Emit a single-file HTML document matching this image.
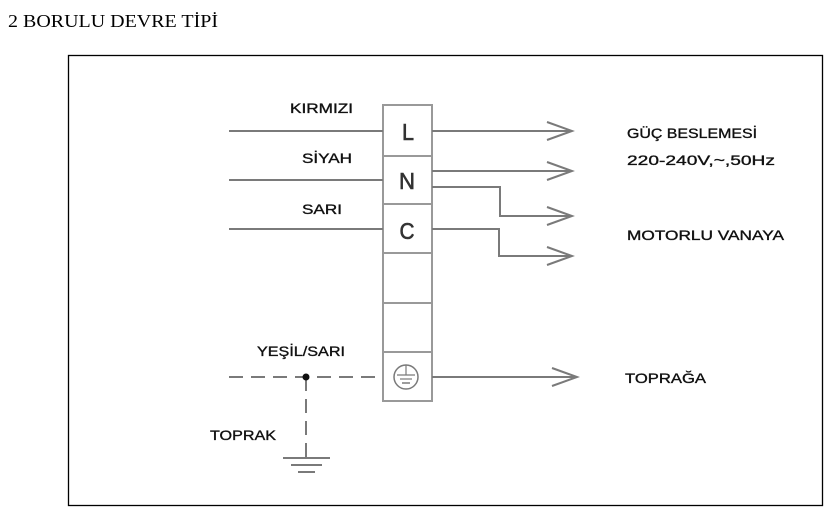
<!DOCTYPE html>
<html><head><meta charset="utf-8"><style>
html,body{margin:0;padding:0;background:#fff;}
svg{display:block}
</style></head><body>
<svg width="840" height="527" viewBox="0 0 840 527" xmlns="http://www.w3.org/2000/svg">
<text x="8" y="27" font-family="Liberation Serif, serif" font-size="18" fill="#000" textLength="210" lengthAdjust="spacingAndGlyphs">2 BORULU DEVRE TİPİ</text>
<rect x="68.5" y="55.5" width="754" height="450" fill="none" stroke="#000" stroke-width="1.3"/>
<g stroke="#7a7a7a" stroke-width="2" fill="none">
<rect x="383" y="105" width="49" height="296" stroke="#999"/>
<line x1="383" y1="156" x2="432" y2="156" stroke="#999"/>
<line x1="383" y1="204" x2="432" y2="204" stroke="#999"/>
<line x1="383" y1="253" x2="432" y2="253" stroke="#999"/>
<line x1="383" y1="303" x2="432" y2="303" stroke="#999"/>
<line x1="383" y1="352" x2="432" y2="352" stroke="#999"/>
<line x1="229" y1="131" x2="383" y2="131"/>
<line x1="229" y1="180" x2="383" y2="180"/>
<line x1="229" y1="229" x2="383" y2="229"/>
<line x1="432" y1="131" x2="572" y2="131"/>
<polyline points="547,122 572,131 547,140"/>
<line x1="432" y1="171" x2="572" y2="171"/>
<polyline points="547,162 572,171 547,180"/>
<polyline points="432,187 500,187 500,216 572,216"/>
<polyline points="547,207 572,216 547,225"/>
<polyline points="432,229 499,229 499,256 572,256"/>
<polyline points="547,247 572,256 547,265"/>
<line x1="432" y1="377" x2="577" y2="377"/>
<polyline points="552,368 577,377 552,386"/>
<line x1="229" y1="377" x2="383" y2="377" stroke-dasharray="14,8"/>
<line x1="306" y1="377" x2="306" y2="458" stroke-dasharray="14,8"/>
<line x1="283" y1="458" x2="330" y2="458"/>
<line x1="291" y1="465" x2="322" y2="465"/>
<line x1="298" y1="472" x2="315" y2="472"/>
<circle cx="406" cy="377" r="12" stroke-width="1.5"/>
<line x1="406" y1="365" x2="406" y2="375" stroke-width="1.2"/>
<line x1="397" y1="375" x2="415" y2="375" stroke-width="1.2"/>
<line x1="400" y1="379" x2="412" y2="379" stroke-width="1.2"/>
<line x1="402" y1="383" x2="410" y2="383" stroke-width="1.5"/>
</g>
<circle cx="306" cy="377" r="3.5" fill="#111"/>
<g font-family="Liberation Sans, sans-serif" font-size="23" fill="#333" stroke="#333" stroke-width="0.6" text-anchor="middle">
<text x="408" y="140" textLength="12" lengthAdjust="spacingAndGlyphs">L</text>
<text x="407" y="189" textLength="16" lengthAdjust="spacingAndGlyphs">N</text>
<text x="407" y="239" textLength="15" lengthAdjust="spacingAndGlyphs">C</text>
</g>
<g font-family="Liberation Sans, sans-serif" font-size="14" fill="#111" stroke="#111" stroke-width="0.35">
<text x="290" y="113" textLength="63" lengthAdjust="spacingAndGlyphs">KIRMIZI</text>
<text x="302" y="163" textLength="50" lengthAdjust="spacingAndGlyphs">SİYAH</text>
<text x="302" y="214" textLength="40" lengthAdjust="spacingAndGlyphs">SARI</text>
<text x="257" y="356" textLength="88" lengthAdjust="spacingAndGlyphs">YEŞİL/SARI</text>
<text x="210" y="440" textLength="66" lengthAdjust="spacingAndGlyphs">TOPRAK</text>
<text x="627" y="138" textLength="130" lengthAdjust="spacingAndGlyphs">GÜÇ BESLEMESİ</text>
<text x="627" y="165" textLength="148" lengthAdjust="spacingAndGlyphs">220-240V,~,50Hz</text>
<text x="627" y="240" textLength="157" lengthAdjust="spacingAndGlyphs">MOTORLU VANAYA</text>
<text x="625" y="383" textLength="81" lengthAdjust="spacingAndGlyphs">TOPRAĞA</text>
</g>
</svg>
</body></html>
